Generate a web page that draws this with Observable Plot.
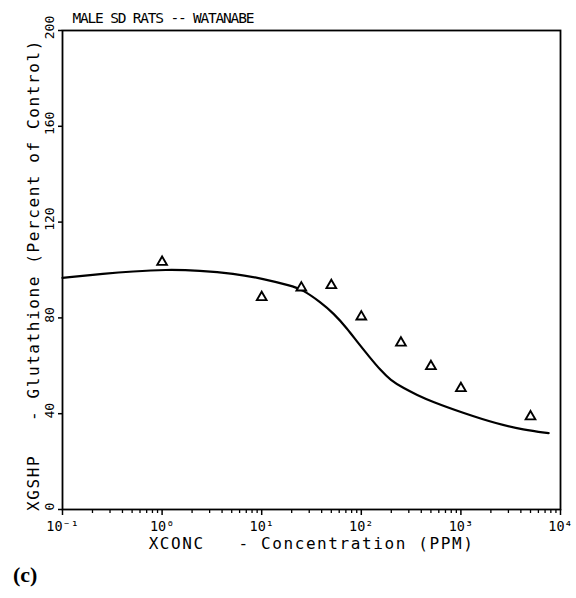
<!DOCTYPE html>
<html><head><meta charset="utf-8">
<script src="https://cdn.jsdelivr.net/npm/d3@7"></script>
<script src="https://cdn.jsdelivr.net/npm/@observablehq/plot@0.6"></script>
<style>
body{margin:0;background:#fff;}
#wrap{position:relative;width:576px;height:598px;background:#fff;}
#cap{position:absolute;left:13px;top:562px;font:bold 22px "Liberation Serif","DejaVu Serif",serif;color:#000;}
</style></head><body>
<div id="wrap"><div id="chart"></div><div id="cap">(c)</div></div>
<script>
const title = "MALE SD RATS -- WATANABE";
const xLabel = "XCONC   - Concentration (PPM)";
const yLabel = "XGSHP   - Glutathione (Percent of Control)";

// observed points (triangles)
const obsConc = [1, 10, 25, 50, 100, 250, 500, 1000, 5000];
const obsGSH  = [103.3, 88.6, 92.6, 93.6, 80.5, 69.6, 59.8, 50.6, 38.8];

// model curve
const fitConc = [0.1, 0.27, 0.5, 1.08, 2.4, 5.2, 10.5, 19.4, 25.5, 38.9, 53, 72, 91, 124, 156, 196, 267, 364, 500, 1070, 2300, 4250, 7600];
const fitGSH  = [96.7, 98.5, 99.4, 100.2, 99.8, 98.6, 96.3, 93.5, 91.9, 86.6, 81.8, 75.6, 70.0, 63.1, 58.2, 54.0, 50.6, 47.8, 45.2, 40.2, 35.8, 33.3, 31.9];

// ticks
const xTicks = [0.1, 1, 10, 100, 1000, 10000];
const xTickLabels = ["10⁻¹", "10⁰", "10¹", "10²", "10³", "10⁴"];
const yTicks = [0, 40, 80, 120, 160, 200];
const yTickLabels = ["0", "40", "80", "120", "160", "200"];

const minorTicks = xTicks.slice(0, -1).flatMap(d => [2,3,4,5,6,7,8,9].map(k => d * k));
const obs = obsConc.map((c, i) => ({conc: c, gsh: obsGSH[i]}));
const fit = fitConc.map((c, i) => ({conc: c, gsh: fitGSH[i]}));

const font = '"DejaVu Sans Mono", monospace';
const chart = Plot.plot({
  width: 576, height: 560,
  marginLeft: 62, marginRight: 16, marginTop: 30, marginBottom: 51,
  style: {fontFamily: font, background: "#fff", color: "#000"},
  x: {type: "log", domain: [0.1, 10000], label: null},
  y: {domain: [0, 200], label: null},
  marks: [
    Plot.axisX({ticks: minorTicks, tickSize: 4, fill: "none", strokeWidth: 1.3, label: null}),
    Plot.axisX({ticks: xTicks, tickSize: 6, tickPadding: 6, strokeWidth: 1.5, fontSize: 13.5,
      tickFormat: d => xTickLabels[xTicks.indexOf(d)], label: null}),
    Plot.axisY({ticks: yTicks, tickSize: 4, strokeWidth: 1.5, fill: "none", label: null}),
    Plot.text(yTicks, {y: d => d, text: d => yTickLabels[yTicks.indexOf(d)], frameAnchor: "left",
      rotate: -90, dx: -13, dy: -3, fontSize: 13, textAnchor: "middle", lineAnchor: "middle"}),
    Plot.frame({stroke: "#000", strokeWidth: 1.8}),
    Plot.line(fit, {x: "conc", y: "gsh", curve: "basis", stroke: "#000", strokeWidth: 2.2}),
    Plot.dot(obs, {x: "conc", y: "gsh", symbol: "triangle", r: 3.6, stroke: "#000", strokeWidth: 1.9, fill: "#fff"}),
    Plot.text([title], {frameAnchor: "top-left", dx: 10, dy: -12, textAnchor: "start", lineAnchor: "middle", fontSize: 14.5}),
    Plot.text([xLabel], {frameAnchor: "bottom", dy: 34, textAnchor: "middle", lineAnchor: "middle", fontSize: 16}),
    Plot.text([yLabel], {frameAnchor: "left", rotate: -90, dx: -29, dy: 5, textAnchor: "middle", lineAnchor: "middle", fontSize: 16})
  ]
});
const svg = d3.select(chart);
svg.selectAll("text").filter(function(){ return this.textContent === title; }).style("letter-spacing", "-1.2px");
svg.selectAll("text").filter(function(){ return this.textContent === xLabel || this.textContent === yLabel; }).style("letter-spacing", "1.6px");
svg.selectAll("text").style("white-space", "pre");
document.getElementById("chart").appendChild(chart);
</script>
</body></html>
